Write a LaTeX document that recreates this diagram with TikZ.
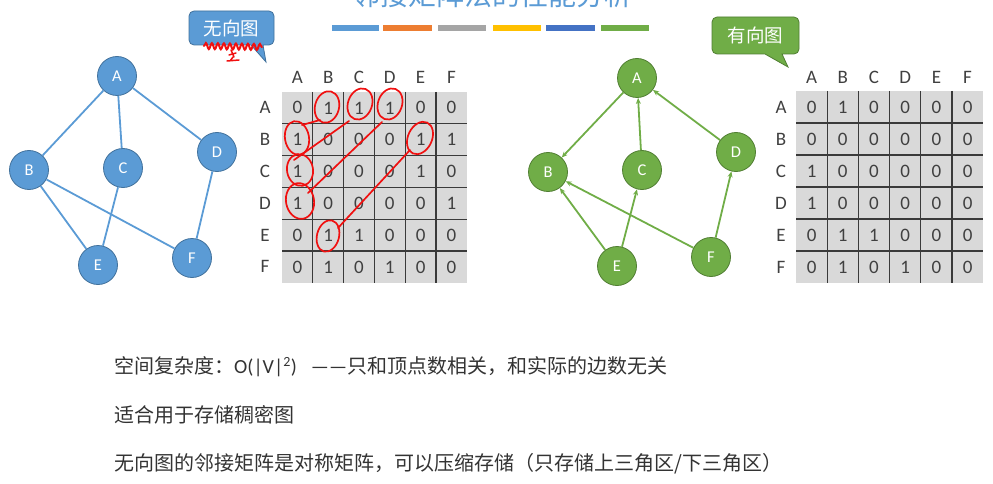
\documentclass[tikz,border=0pt]{standalone}
\usepackage{fontspec}
\setmainfont{Carlito}
\newfontfamily\cjk{Noto Sans CJK SC}
\usetikzlibrary{arrows.meta,decorations.pathmorphing}
\definecolor{bluefill}{HTML}{5B9BD5}
\definecolor{blueline}{HTML}{41719C}
\definecolor{greenfill}{HTML}{70AD47}
\definecolor{greenline}{HTML}{507E32}
\definecolor{txt}{HTML}{404040}
\definecolor{bodytxt}{HTML}{333333}
\definecolor{cellgray}{HTML}{D9D9D9}
\definecolor{gridline}{HTML}{3A3A3A}
\definecolor{markred}{HTML}{F01010}
\definecolor{sorange}{HTML}{ED7D31}
\definecolor{sgray}{HTML}{A5A5A5}
\definecolor{syellow}{HTML}{FFC000}
\definecolor{sdblue}{HTML}{4472C4}
\tikzset{
  vblue/.style={circle, fill=bluefill, draw=blueline, line width=0.8pt, minimum size=39pt, inner sep=0pt, text=white, font=\fontsize{16.5}{16.5}\selectfont},
  vgreen/.style={circle, fill=greenfill, draw=greenline, line width=0.8pt, minimum size=39pt, inner sep=0pt, text=white, font=\fontsize{16.5}{16.5}\selectfont},
  uedge/.style={draw=bluefill, line width=1.8pt},
  dedge/.style={draw=greenfill, line width=1.8pt, -{Stealth[length=6pt,width=5pt]}},
  celltxt/.style={text=txt, font=\fontsize{19}{19}\selectfont, inner sep=0pt},
  bodytext/.style={text=bodytxt, anchor=west, inner sep=0pt, font=\fontsize{20}{20}\selectfont},
  callouttxt/.style={text=white, font=\cjk\fontsize{18.5}{18.5}\selectfont, inner sep=0pt},
  redmark/.style={draw=markred, line width=1.7pt, line cap=round}
}
\begin{document}
\begin{tikzpicture}[x=1pt,y=-1pt]
\useasboundingbox (0,0) rectangle (993,484);
\clip (0,0) rectangle (993,484);

% title (cut at top, as in the reference)
\node[anchor=base, text=bluefill, font=\cjk\fontsize{28}{28}\selectfont, inner sep=0pt] (title) at (492,6) {邻接矩阵法的性能分析};
% colour strips
\fill[bluefill] (332,25) rectangle (379,31);
\fill[sorange] (383,25) rectangle (432,31);
\fill[sgray] (438,25) rectangle (486,31);
\fill[syellow] (493,25) rectangle (541,31);
\fill[sdblue] (546,25) rectangle (595,31);
\fill[greenfill] (601,25) rectangle (649,31);

% callout undirected
\filldraw[fill=bluefill, draw=blueline, line width=0.8pt, rounded corners=5pt]
  (189,11) -- (274,11) -- (274,45) [sharp corners] -- (263,45) -- (266,62) -- (251,45) [rounded corners=5pt] -- (189,45) -- cycle;
\node[callouttxt] (cu) at (231.5,28) {无向图};
% callout directed
\filldraw[fill=greenfill, draw=greenline, line width=0.8pt, rounded corners=5pt]
  (712,17) -- (799,17) -- (799,54) [sharp corners] -- (782,54) -- (788,67) -- (765,54) [rounded corners=5pt] -- (712,54) -- cycle;
\node[callouttxt] (cd) at (755.5,35.5) {有向图};

% undirected graph
\node[vblue] (uA) at (117,76) {A};
\node[vblue] (uB) at (29,170) {B};
\node[vblue] (uC) at (123,168) {C};
\node[vblue] (uD) at (217,152) {D};
\node[vblue] (uE) at (98,265) {E};
\node[vblue] (uF) at (192,258) {F};
\draw[uedge] (uA) -- (uB);
\draw[uedge] (uA) -- (uC);
\draw[uedge] (uA) -- (uD);
\draw[uedge] (uB) -- (uE);
\draw[uedge] (uB) -- (uF);
\draw[uedge] (uC) -- (uE);
\draw[uedge] (uD) -- (uF);

% directed graph
\node[vgreen] (dA) at (637,78) {A};
\node[vgreen] (dB) at (548,172) {B};
\node[vgreen] (dC) at (642,170) {C};
\node[vgreen] (dD) at (736,152) {D};
\node[vgreen] (dE) at (617,266) {E};
\node[vgreen] (dF) at (711,257) {F};
\draw[dedge] (dA) -- (dB);
\draw[dedge] (dC) -- (dA);
\draw[dedge] (dD) -- (dA);
\draw[dedge] (dE) -- (dB);
\draw[dedge] (dE) -- (dC);
\draw[dedge] (dF) -- (dB);
\draw[dedge] (dF) -- (dD);

% left matrix
\def\lx{282}\def\ly{92}\def\lw{30.8}\def\lh{31.8}
\fill[cellgray] (\lx,\ly) rectangle (\lx+6*\lw,\ly+6*\lh);
\foreach \i in {1,...,5} {
  \draw[gridline, line width=1.2pt] (\lx+\i*\lw,\ly) -- (\lx+\i*\lw,\ly+6*\lh);
  \draw[gridline, line width=1.2pt] (\lx,\ly+\i*\lh) -- (\lx+6*\lw,\ly+\i*\lh);
}
\foreach \L [count=\k] in {A,B,C,D,E,F} {
  \node[celltxt] (Lc\L) at (\lx+\k*\lw-0.5*\lw,77) {\L};
  \node[celltxt] (Lr\L) at (265,\ly+\k*\lh-0.5*\lh) {\L};
}
\foreach \row [count=\r] in {{0,1,1,1,0,0},{1,0,0,0,1,1},{1,0,0,0,1,0},{1,0,0,0,0,1},{0,1,1,0,0,0},{0,1,0,1,0,0}} {
  \foreach \v [count=\c] in \row {
    \node[celltxt] (L\r-\c) at (\lx+\c*\lw-0.5*\lw,\ly+\r*\lh-0.5*\lh) {\v};
  }
}

% right matrix
\def\rx{796}\def\ry{91}\def\rw{31.2}\def\rh{32}
\fill[cellgray] (\rx,\ry) rectangle (\rx+6*\rw,\ry+6*\rh);
\foreach \i in {1,...,5} {
  \draw[gridline, line width=1.2pt] (\rx+\i*\rw,\ry) -- (\rx+\i*\rw,\ry+6*\rh);
  \draw[gridline, line width=1.2pt] (\rx,\ry+\i*\rh) -- (\rx+6*\rw,\ry+\i*\rh);
}
\foreach \L [count=\k] in {A,B,C,D,E,F} {
  \node[celltxt] (Rc\L) at (\rx+\k*\rw-0.5*\rw,77) {\L};
  \node[celltxt] (Rr\L) at (781,\ry+\k*\rh-0.5*\rh) {\L};
}
\foreach \row [count=\r] in {{0,1,0,0,0,0},{0,0,0,0,0,0},{1,0,0,0,0,0},{1,0,0,0,0,0},{0,1,1,0,0,0},{0,1,0,1,0,0}} {
  \foreach \v [count=\c] in \row {
    \node[celltxt] (R\r-\c) at (\rx+\c*\rw-0.5*\rw,\ry+\r*\rh-0.5*\rh) {\v};
  }
}

% red handwritten marks
\draw[redmark] (327,107) ellipse [x radius=12, y radius=16, rotate=-15];
\draw[redmark] (360,104) ellipse [x radius=12, y radius=16, rotate=-20];
\draw[redmark] (390,104) ellipse [x radius=12, y radius=16, rotate=-20];
\draw[redmark] (297,138) ellipse [x radius=12, y radius=17, rotate=10];
\draw[redmark] (420,138) ellipse [x radius=12, y radius=17, rotate=-25];
\draw[redmark] (300,170) ellipse [x radius=13, y radius=16, rotate=10];
\draw[redmark] (300,201) ellipse [x radius=14, y radius=18, rotate=10];
\draw[redmark] (328,236) ellipse [x radius=11, y radius=16, rotate=-15];
\draw[redmark] (320,120) -- (302,125);
\draw[redmark] (349,121) -- (294,160);
\draw[redmark] (382,122) -- (308,193);
\draw[redmark] (410,150) -- (338,228);
% squiggle under callout
\draw[redmark, line width=2pt, decorate, decoration={snake, amplitude=3pt, segment length=6pt}] (204,46) -- (262,47);
\draw[redmark, line width=1.5pt] (231,50) -- (234,57) (229,55) -- (236,53) (227,61) -- (239,60) (233,57) -- (230,61);

% body text
\node[bodytext] (t1) at (114,367) {{\cjk 空间复杂度：}O(|V|\textsuperscript{2})\hspace{14pt}——{\cjk 只和顶点数相关，和实际的边数无关}};
\node[bodytext] (t2) at (114,415) {\cjk 适合用于存储稠密图};
\node[bodytext] (t3) at (114,464) {\cjk 无向图的邻接矩阵是对称矩阵，可以压缩存储（只存储上三角区/下三角区）};
\end{tikzpicture}
\end{document}
